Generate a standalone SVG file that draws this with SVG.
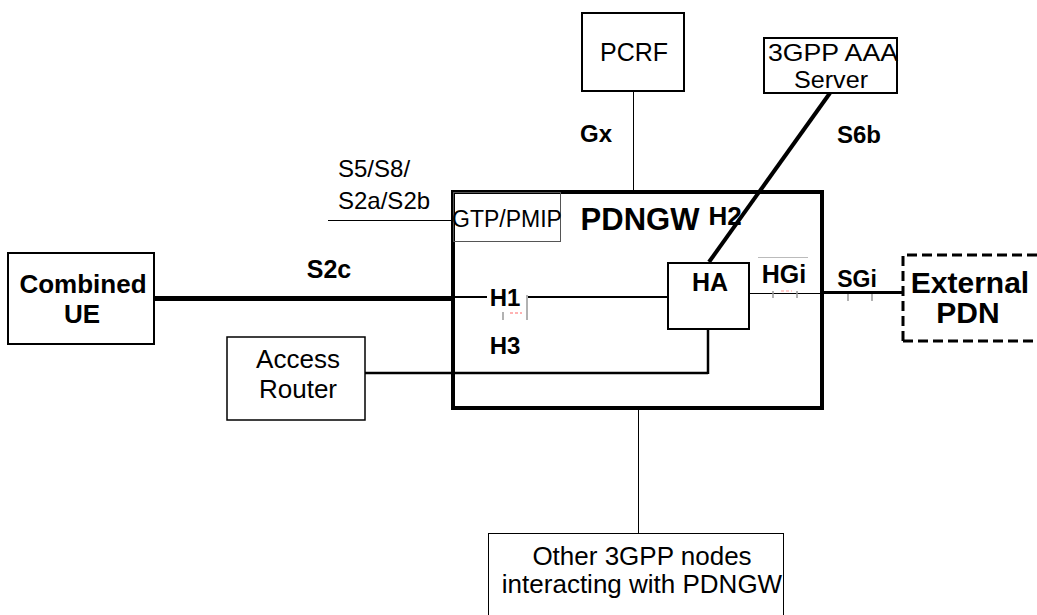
<svg xmlns="http://www.w3.org/2000/svg" width="1037" height="615" viewBox="0 0 1037 615">
<style>
  text { font-family: "Liberation Sans", Arial, sans-serif; fill: #000; text-anchor: middle; }
  .b { font-weight: bold; }
  .s { text-anchor: start; }
  .box { fill: #fff; stroke: #000; stroke-width: 2; }
  .tick { stroke: #999; stroke-width: 1.5; }
</style>
<rect width="1037" height="615" fill="#fff"/>

<g id="connectors" fill="none" stroke="#000">
  <line x1="154" y1="298.5" x2="453" y2="298.5" stroke-width="5"/>
  <line x1="453" y1="297" x2="487" y2="297" stroke-width="2"/>
  <line x1="528" y1="297" x2="668" y2="297" stroke-width="2"/>
  <line x1="365" y1="373" x2="708" y2="373" stroke-width="2.5"/>
  <line x1="708" y1="374" x2="708" y2="329" stroke-width="2.5"/>
  <line x1="633.5" y1="90" x2="633.5" y2="192" stroke-width="1"/>
  <line x1="830" y1="93" x2="709" y2="262" stroke-width="4"/>
  <line x1="328" y1="220.5" x2="452" y2="220.5" stroke-width="1"/>
  <line x1="749" y1="293.5" x2="823" y2="293.5" stroke-width="1"/>
  <line x1="823" y1="292.5" x2="902" y2="292.5" stroke-width="3"/>
  <line x1="638.5" y1="409" x2="638.5" y2="533" stroke-width="1"/>
</g>

<g id="pdngw">
  <rect x="453" y="192" width="369" height="216" fill="none" stroke="#000" stroke-width="4"/>
  <text class="b" x="640" y="230" font-size="31">PDNGW</text>
</g>

<g id="gtp-pmip">
  <rect x="453.5" y="192.5" width="107" height="49" fill="none" stroke="#555" stroke-width="1"/>
  <text x="507" y="227" font-size="23">GTP/PMIP</text>
</g>

<g id="ha">
  <rect x="668" y="263" width="81" height="66" class="box"/>
  <text class="b" x="710" y="291" font-size="25">HA</text>
</g>

<g id="labels-inside">
  <text class="b" x="725" y="225" font-size="26">H2</text>
  <text class="b" x="505" y="306" font-size="24">H1</text>
  <text class="b" x="505" y="354" font-size="24">H3</text>
  <text class="b" x="784" y="283" font-size="25">HGi</text>
  <line x1="758" y1="257.5" x2="808" y2="257.5" stroke="#bbb" stroke-width="1"/>
  <line class="tick" x1="503" y1="312" x2="503" y2="320"/>
  <line class="tick" x1="527" y1="295" x2="527" y2="320"/>
  <line x1="510" y1="313" x2="522" y2="313" stroke="#f66" stroke-width="1" stroke-dasharray="3,2"/>
  <line class="tick" x1="773" y1="291" x2="773" y2="298"/>
  <line class="tick" x1="797" y1="291" x2="797" y2="298"/>
  <line x1="781" y1="291" x2="792" y2="291" stroke="#f99" stroke-width="1" stroke-dasharray="3,2"/>
  <line class="tick" x1="848" y1="294" x2="848" y2="301"/>
  <line class="tick" x1="872" y1="294" x2="872" y2="301"/>
</g>

<g id="combined-ue">
  <rect x="8" y="253" width="146" height="91" class="box"/>
  <text class="b" x="83" y="293" font-size="26">Combined</text>
  <text class="b" x="82" y="323" font-size="26">UE</text>
</g>

<g id="access-router">
  <rect x="227" y="337" width="138" height="83" fill="#fff" stroke="#000" stroke-width="1.5"/>
  <text x="298" y="368" font-size="26">Access</text>
  <text x="298" y="398" font-size="26">Router</text>
</g>

<g id="pcrf">
  <rect x="582" y="13" width="102" height="78" class="box"/>
  <text x="634" y="61" font-size="25">PCRF</text>
</g>

<g id="aaa">
  <rect x="764" y="38" width="133" height="55" class="box"/>
  <text x="833" y="61" font-size="24" textLength="130" lengthAdjust="spacingAndGlyphs">3GPP AAA</text>
  <text x="831" y="88" font-size="24" textLength="74" lengthAdjust="spacingAndGlyphs">Server</text>
</g>

<g id="external-pdn">
  <path d="M903 341 V255 H1037 M903 341 H1037" fill="none" stroke="#000" stroke-width="3" stroke-dasharray="10,5"/>
  <text class="b" x="970" y="293" font-size="30">External</text>
  <text class="b" x="968" y="323" font-size="30">PDN</text>
</g>

<g id="other-nodes">
  <rect x="488.5" y="533.5" width="295" height="90" fill="#fff" stroke="#000" stroke-width="1"/>
  <text x="642" y="565" font-size="26">Other 3GPP nodes</text>
  <text x="642" y="593" font-size="26">interacting with PDNGW</text>
</g>

<g id="interface-labels">
  <text class="b" x="329" y="278" font-size="25">S2c</text>
  <text class="b" x="596" y="142" font-size="24">Gx</text>
  <text class="b" x="859" y="143" font-size="24">S6b</text>
  <text class="b" x="857" y="287" font-size="23">SGi</text>
  <text class="s" x="338" y="177" font-size="24">S5/S8/</text>
  <text class="s" x="338" y="209" font-size="24">S2a/S2b</text>
</g>
</svg>
